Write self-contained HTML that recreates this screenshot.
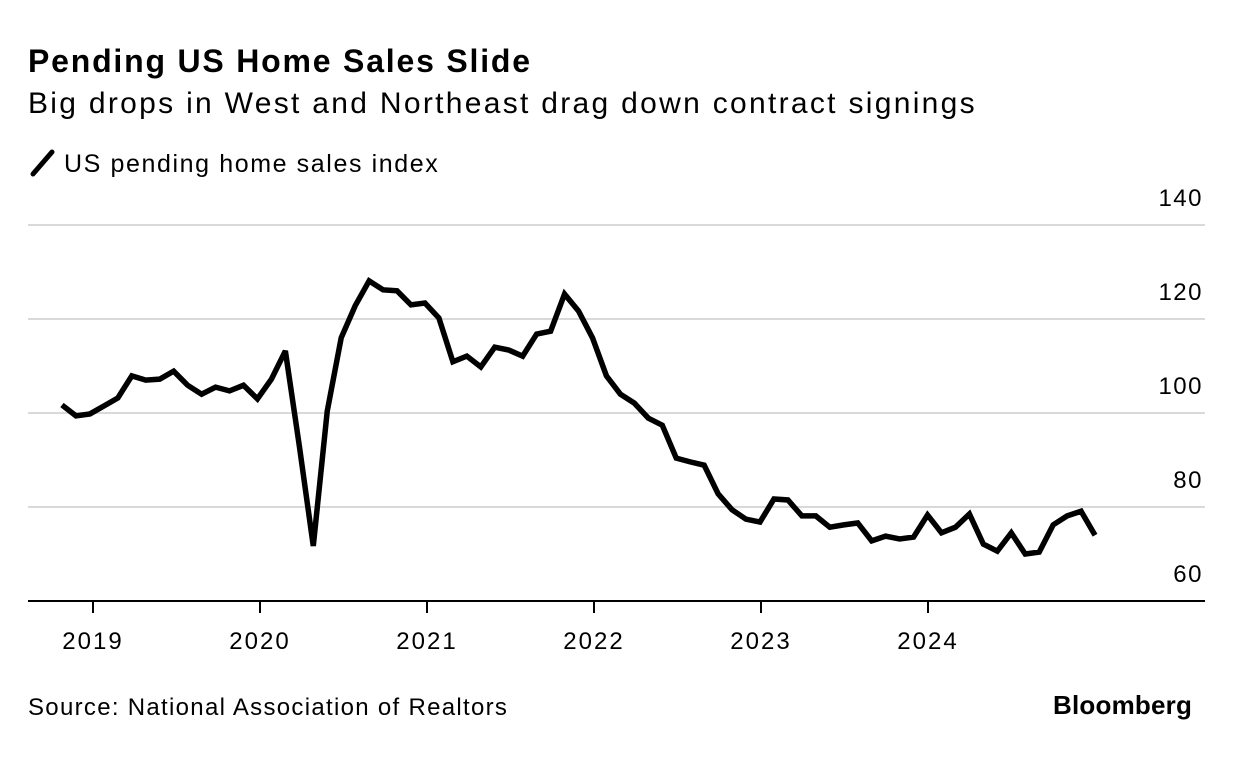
<!DOCTYPE html>
<html><head><meta charset="utf-8"><style>
body{margin:0;background:#fff;width:1233px;height:766px;overflow:hidden;font-family:"Liberation Sans",Arial,sans-serif;color:#000}
.t{position:absolute;left:28px;top:43px;font-size:32px;font-weight:bold;letter-spacing:1.8px;white-space:nowrap}
.s{position:absolute;left:28px;top:87px;font-size:30px;letter-spacing:2.3px;white-space:nowrap}
.src{position:absolute;left:28px;top:694px;font-size:24px;letter-spacing:1.3px;white-space:nowrap}
.bb{position:absolute;left:1053px;top:690px;font-size:26px;font-weight:bold;letter-spacing:0.2px}
</style></head><body>
<div class="t">Pending US Home Sales Slide</div>
<div class="s">Big drops in West and Northeast drag down contract signings</div>
<svg id="c" width="1233" height="766" style="position:absolute;left:0;top:0">
<g><line x1="33" y1="174" x2="52" y2="152" stroke="#000" stroke-width="5" stroke-linecap="round"/>
<text x="64" y="172" font-size="25" letter-spacing="1.6" font-family="Liberation Sans">US pending home sales index</text></g>
</svg>
<div class="src">Source: National Association of Realtors</div>
<div class="bb">Bloomberg</div>
<script>
const yTicks=[60,80,100,120,140];
const years=["2019","2020","2021","2022","2023","2024"];
const values=[101.7,99.4,99.8,101.5,103.2,107.9,107.0,107.2,108.9,105.9,104.0,105.5,104.7,105.9,103.0,107.2,113.2,93.0,71.7,100.4,116.0,122.8,128.1,126.2,126.0,123.0,123.4,120.2,110.9,112.1,109.8,114.0,113.4,112.1,116.8,117.4,125.3,121.7,116.0,107.9,104.0,102.1,98.9,97.4,90.4,89.6,88.9,82.8,79.4,77.4,76.8,81.7,81.5,78.1,78.1,75.7,76.2,76.6,72.8,73.8,73.2,73.6,78.3,74.5,75.7,78.5,72.1,70.6,74.5,70.0,70.4,76.2,78.1,79.1,74.0];
const svg=document.getElementById('c');const NS='http://www.w3.org/2000/svg';
const y=v=>601-(v-60)*4.7;
const x=i=>62+i*13.96;
const yearX=k=>93+k*167;
function mk(t,a){const e=document.createElementNS(NS,t);for(const k in a)e.setAttribute(k,a[k]);svg.appendChild(e);return e;}
yTicks.forEach(v=>{
 if(v>60){const l=mk('line',{x1:28,x2:1205,y1:y(v),y2:y(v),stroke:'#d9d9d9','stroke-width':2});
 
 }
 const t=mk('text',{x:1203,y:y(v)-19,'text-anchor':'end','font-size':24,'letter-spacing':1.5,'font-family':'Liberation Sans'});t.textContent=v;
 
 
});
const base=mk('line',{x1:28,x2:1205,y1:601,y2:601,stroke:'#000','stroke-width':2});


years.forEach((s,k)=>{
 const tk=mk('line',{x1:yearX(k),x2:yearX(k),y1:601,y2:613,stroke:'#000','stroke-width':2});
 
 
 const t=mk('text',{x:yearX(k),y:649,'text-anchor':'middle','font-size':24,'letter-spacing':2,'font-family':'Liberation Sans'});t.textContent=s;
 
 
});
const p=mk('polyline',{points:values.map((v,i)=>x(i)+','+y(v)).join(' '),fill:'none',stroke:'#000','stroke-width':5.5,'stroke-linejoin':'miter','stroke-miterlimit':3});


</script>
</body></html>
